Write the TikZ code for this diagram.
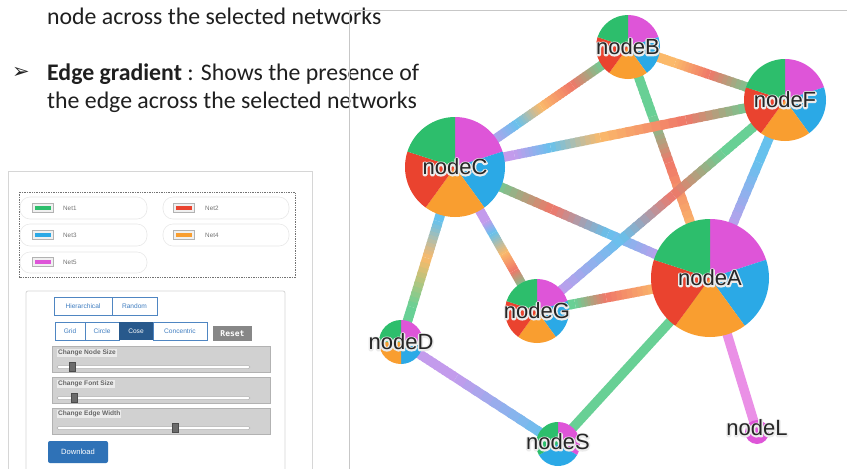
\documentclass[tikz,border=0pt]{standalone}
\usepackage{fontspec}
\setmainfont{Carlito}
\newfontfamily\arialf{Liberation Sans}
\newfontfamily\dejavuf{DejaVu Sans}
\newfontfamily\monof{DejaVu Sans Mono}
\usetikzlibrary{calc}

\definecolor{pgreen}{HTML}{2DBE6C}
\definecolor{pred}{HTML}{EA432F}
\definecolor{pblue}{HTML}{2BA9E6}
\definecolor{porange}{HTML}{F99E30}
\definecolor{pmag}{HTML}{DE55D8}
\colorlet{egr}{pgreen!72!white}
\colorlet{ere}{pred!72!white}
\colorlet{ebl}{pblue!72!white}
\colorlet{eor}{porange!72!white}
\colorlet{ema}{pmag!65!white}
\definecolor{epu}{HTML}{C39BEC}
\definecolor{panelgray}{HTML}{D6D6D6}
\definecolor{btnblue}{HTML}{4F86C2}
\definecolor{btntext}{HTML}{3F7DC0}
\definecolor{cosefill}{HTML}{28598C}
\definecolor{dlblue}{HTML}{2F72B7}

\newcommand\strokeon{\special{pdf:literal direct 2 Tr 3 w 1 J 1 j}}
\newcommand\strokeoff{\special{pdf:literal direct 0 Tr 1 w}}

\tikzset{
  edge/.style={line width=9.5pt, line cap=butt},
  hub/.style={circle, inner sep=0pt, minimum size=#1},
  lbl/.style={inner sep=0pt, font=\arialf\fontsize{22}{22}\selectfont},
  halo/.style={inner sep=0pt, font=\arialf\fontsize{22}{22}\selectfont, text=white!92!black},
  body/.style={inner sep=0pt, anchor=base west, text=black!88, font=\fontsize{23.8}{28}\selectfont},
  pill/.style={draw=black!9, rounded corners=10pt, line width=0.6pt},
  swatch/.style={draw=black!30, fill=black!6, line width=0.5pt},
  netlbl/.style={inner sep=0pt, anchor=west, text=black!55, font=\arialf\fontsize{6.3}{7}\selectfont},
  btn/.style={draw=btnblue, line width=0.7pt, text=btntext, font=\arialf\fontsize{6.6}{7}\selectfont},
  slidebox/.style={draw=black!30, fill=black!18, line width=0.6pt},
  slidelbl/.style={anchor=west, fill=white!92!black, inner sep=1pt, text=black!60, font=\arialf\bfseries\fontsize{6.6}{7}\selectfont},
  track/.style={draw=black!30, fill=white, rounded corners=1.5pt, line width=0.5pt},
  thumb/.style={fill=black!58, draw=black!70, line width=0.3pt}
}

\newcommand\gseg[6]{%
  \foreach \gi in {0,...,9}{%
    \pgfmathsetmacro\gsa{#3+(#4-#3)*\gi/10}%
    \pgfmathsetmacro\gsb{min(#4,#3+(#4-#3)*(\gi+1.4)/10)}%
    \pgfmathtruncatemacro\gsp{95-\gi*10}%
    \draw[edge, draw=#5!\gsp!#6] ($(#1.center)!\gsa!(#2.center)$) -- ($(#1.center)!\gsb!(#2.center)$);
  }%
}
\newcommand\sector[5]{%
  \fill[fill=#5] (#1.center) -- ++(#3:#2) arc[start angle=#3, end angle=#4, radius=#2] -- cycle;%
}
\newcommand\pieV[2]{%
  \sector{#1}{#2}{90}{18}{pmag}%
  \sector{#1}{#2}{18}{-54}{pblue}%
  \sector{#1}{#2}{-54}{-126}{porange}%
  \sector{#1}{#2}{-126}{-198}{pred}%
  \sector{#1}{#2}{162}{90}{pgreen}%
}
\newcommand\nlabel[3]{%
  \node[halo] (h#1) at ($(#1.center)+(0,#3)$) {\strokeon #2\strokeoff};%
  \node[lbl, text=black!85] (l#1) at ($(#1.center)+(0,#3)$) {#2};%
}

\begin{document}
\begin{tikzpicture}[x=1pt, y=1pt]
\useasboundingbox (0,0) rectangle (847,-469);
\fill[white] (0,0) rectangle (847,-469);

% ---- text at top left
\node[body] (t1) at (47,-24) {node across the selected networks};
\node[inner sep=0pt, font=\dejavuf\fontsize{21}{21}\selectfont, text=black!85] (arr) at (21,-73) {➢};
\node[body] (t2) at (47,-80) {\textbf{Edge gradient} : Shows the presence of};
\node[body] (t3) at (47,-108) {the edge across the selected networks};

% ---- graph panel frame
\draw[black!22, line width=0.8pt] (847,-10) -- (349,-10) -- (349,-469);

% ---- graph nodes (positions)
\node[hub=118pt] (A) at (710,-278) {};
\node[hub=64pt]  (B) at (628,-47) {};
\node[hub=100pt] (C) at (455,-167) {};
\node[hub=44pt]  (D) at (401,-342) {};
\node[hub=82pt]  (F) at (785,-100) {};
\node[hub=64pt]  (G) at (537,-311) {};
\node[hub=44pt]  (S) at (558,-444) {};
\node[hub=24pt]  (L) at (757,-432) {};

% ---- edges with gradients
% C-B
\gseg{C}{B}{0.2}{0.36}{epu}{ebl}
\gseg{C}{B}{0.36}{0.5}{ebl}{eor}
\gseg{C}{B}{0.5}{0.68}{eor}{ere}
\gseg{C}{B}{0.68}{0.86}{ere}{egr}
% B-F
\gseg{B}{F}{0.15}{0.3}{eor}{eor}
\gseg{B}{F}{0.3}{0.52}{eor}{ere}
\gseg{B}{F}{0.52}{0.8}{ere}{egr}
% B-A
\gseg{B}{A}{0.12}{0.3}{egr}{egr}
\gseg{B}{A}{0.3}{0.5}{egr}{ere}
\gseg{B}{A}{0.5}{0.8}{ere}{eor}
% C-F
\gseg{C}{F}{0.12}{0.18}{epu}{epu}
\gseg{C}{F}{0.18}{0.29}{epu}{ebl}
\gseg{C}{F}{0.29}{0.44}{ebl}{eor}
\gseg{C}{F}{0.44}{0.7}{eor}{ere}
\gseg{C}{F}{0.7}{0.9}{ere}{egr}
% C-A
\gseg{C}{A}{0.15}{0.38}{egr}{ere}
\gseg{C}{A}{0.38}{0.6}{ere}{ebl}
\gseg{C}{A}{0.6}{0.82}{ebl}{epu}
% F-G
\gseg{F}{G}{0.1}{0.25}{egr}{egr}
\gseg{F}{G}{0.25}{0.45}{egr}{ere}
\gseg{F}{G}{0.45}{0.66}{ere}{ebl}
\gseg{F}{G}{0.66}{0.92}{ebl}{epu}
% F-A
\gseg{F}{A}{0.15}{0.35}{ebl}{ebl}
\gseg{F}{A}{0.35}{0.75}{ebl}{epu}
% C-D
\gseg{C}{D}{0.25}{0.31}{ebl}{ebl}
\gseg{C}{D}{0.31}{0.52}{ebl}{eor}
\gseg{C}{D}{0.52}{0.8}{eor}{egr}
\gseg{C}{D}{0.8}{0.9}{egr}{egr}
% C-G
\gseg{C}{G}{0.28}{0.38}{epu}{epu}
\gseg{C}{G}{0.38}{0.46}{epu}{ebl}
\gseg{C}{G}{0.46}{0.6}{ebl}{eor}
\gseg{C}{G}{0.6}{0.72}{eor}{ere}
\gseg{C}{G}{0.72}{0.84}{ere}{egr}
% G-A
\gseg{G}{A}{0.15}{0.22}{egr}{egr}
\gseg{G}{A}{0.22}{0.4}{egr}{ere}
\gseg{G}{A}{0.4}{0.7}{ere}{eor}
% A-S, A-L, D-S
\draw[edge, draw=egr] (A.center) -- (S.center);
\draw[edge, draw=ema] (A.center) -- (L.center);
\gseg{D}{S}{0.1}{0.35}{epu}{epu}
\gseg{D}{S}{0.35}{0.92}{epu}{ebl}

% ---- pies
\pieV{A}{59}
\pieV{B}{32}
\pieV{C}{50}
\pieV{F}{41}
\pieV{G}{32}
\sector{D}{22}{90}{0}{pmag}
\sector{D}{22}{0}{-90}{pblue}
\sector{D}{22}{-90}{-180}{porange}
\sector{D}{22}{180}{90}{pgreen}
\sector{S}{22}{90}{-30}{pmag}
\sector{S}{22}{-30}{-150}{pblue}
\sector{S}{22}{210}{90}{pgreen}
\fill[fill=pmag] (L.center) circle[radius=12];

% ---- labels
\nlabel{A}{nodeA}{0}
\nlabel{B}{nodeB}{0}
\nlabel{C}{nodeC}{0}
\nlabel{D}{nodeD}{0}
\nlabel{F}{nodeF}{0}
\nlabel{G}{nodeG}{0}
\nlabel{S}{nodeS}{2}
\nlabel{L}{nodeL}{4}

% ---- left panel
\draw[panelgray, line width=0.8pt] (8,-480) -- (8,-171) -- (312,-171) -- (312,-480);
\draw[black!55, line width=0.6pt, dash pattern=on 1.4pt off 1pt] (19,-192) rectangle (295,-277);
% legend pills
\draw[pill] (20,-197) rectangle (147,-219);
\draw[pill] (20,-224) rectangle (147,-246);
\draw[pill] (20,-252) rectangle (147,-273);
\draw[pill] (163,-197) rectangle (289,-219);
\draw[pill] (163,-224) rectangle (289,-246);
% swatches
\draw[swatch] (32,-203.5) rectangle (53,-212.5);
\fill[fill=pgreen] (34.5,-206) rectangle (50.5,-210);
\draw[swatch] (173,-203.5) rectangle (194,-212.5);
\fill[fill=pred] (175.5,-206) rectangle (191.5,-210);
\draw[swatch] (32,-230.5) rectangle (53,-239.5);
\fill[fill=pblue] (34.5,-233) rectangle (50.5,-237);
\draw[swatch] (173,-230.5) rectangle (194,-239.5);
\fill[fill=porange] (175.5,-233) rectangle (191.5,-237);
\draw[swatch] (32,-257.5) rectangle (53,-266.5);
\fill[fill=pmag] (34.5,-260) rectangle (50.5,-264);
\node[netlbl] (n1) at (63,-208) {Net1};
\node[netlbl] (n2) at (205,-208) {Net2};
\node[netlbl] (n3) at (63,-235) {Net3};
\node[netlbl] (n4) at (205,-235) {Net4};
\node[netlbl] (n5) at (63,-262) {Net5};

% control box
\draw[panelgray, line width=0.8pt, rounded corners=2pt] (26,-480) -- (26,-291) -- (285,-291) -- (285,-480);
% layout buttons
\draw[btn] (54,-297) rectangle (112,-315);
\node[btn, draw=none] (bh) at (83,-306) {Hierarchical};
\draw[btn] (112,-297) rectangle (157,-315);
\node[btn, draw=none] (br) at (134.5,-306) {Random};
\draw[btn] (55,-322) rectangle (85,-340);
\node[btn, draw=none] (bg) at (70,-331) {Grid};
\draw[btn] (85,-322) rectangle (119,-340);
\node[btn, draw=none] (bc) at (102,-331) {Circle};
\fill[fill=cosefill] (119,-322) rectangle (153,-340);
\node[btn, draw=none, text=white] (bo) at (136,-331) {Cose};
\draw[btn] (153,-322) rectangle (207,-340);
\node[btn, draw=none] (bn) at (180,-331) {Concentric};
\fill[black!47] (213,-326) rectangle (252,-341);
\node[inner sep=0pt, text=white, font=\monof\bfseries\fontsize{8}{8}\selectfont] (reset) at (232.5,-333.5) {Reset};

% sliders
\draw[slidebox] (52,-346) rectangle (270,-372);
\node[slidelbl] (s1) at (57,-353) {Change Node Size};
\draw[track] (57,-365.5) rectangle (250,-368.5);
\draw[thumb] (69,-362.5) rectangle (75,-371);
\draw[slidebox] (52,-377) rectangle (270,-403);
\node[slidelbl] (s2) at (57,-384) {Change Font Size};
\draw[track] (57,-396.5) rectangle (250,-399.5);
\draw[thumb] (71,-393.5) rectangle (77,-402);
\draw[slidebox] (52,-408) rectangle (270,-434);
\node[slidelbl] (s3) at (57,-414) {Change Edge Width};
\draw[track] (57,-426.5) rectangle (250,-429.5);
\draw[thumb] (172,-423.5) rectangle (178,-432);

% download
\fill[fill=dlblue, rounded corners=2pt] (48,-441) rectangle (108,-463);
\node[inner sep=0pt, text=white, font=\arialf\fontsize{7.6}{8}\selectfont] (dl) at (78,-452) {Download};
\end{tikzpicture}
\end{document}
